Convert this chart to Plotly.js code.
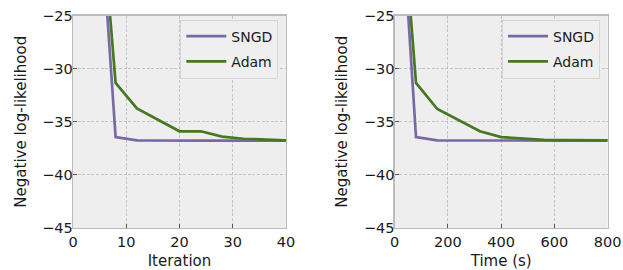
<!DOCTYPE html>
<html>
<head>
<meta charset="utf-8">
<script src="https://cdn.plot.ly/plotly-3.0.1.min.js"></script>
<style>
  html, body { margin: 0; padding: 0; background: #ffffff; }
  #chart { width: 623px; height: 270px; }
</style>
</head>
<body>
<div id="chart"></div>
<script>
// ---- Data ----
const seriesNames = ["SNGD", "Adam"];

// Left panel: negative log-likelihood vs. iteration
const iterSNGD = [4, 8, 12, 16, 20, 24, 28, 32, 36, 40];
const nllIterSNGD = [-7.0, -36.45, -36.75, -36.78, -36.78, -36.78, -36.78, -36.78, -36.78, -36.78];
const iterAdam = [4, 8, 12, 16, 20, 24, 28, 32, 36, 40];
const nllIterAdam = [-7.0, -31.35, -33.75, -34.85, -35.9, -35.9, -36.4, -36.6, -36.7, -36.75];

// Right panel: negative log-likelihood vs. wall-clock time (s)
const timeSNGD = [0, 80, 160, 320, 480, 640, 800];
const nllTimeSNGD = [-5.0, -36.45, -36.75, -36.78, -36.78, -36.78, -36.78];
const timeAdam = [0, 80, 160, 240, 320, 400, 480, 560, 640, 720, 800];
const nllTimeAdam = [-5.8, -31.35, -33.8, -34.85, -35.9, -36.45, -36.6, -36.7, -36.73, -36.75, -36.76];

// ---- Style ----
const colSNGD = "#7A68A6";
const colAdam = "#467821";
const FONT = "DejaVu Sans, sans-serif";
const W = 623, H = 270;
const lw = 2.7;

const traces = [
  {x: iterSNGD, y: nllIterSNGD, name: seriesNames[0], xaxis: "x", yaxis: "y", legend: "legend",
   legendgroup: "a", mode: "lines", line: {color: colSNGD, width: lw}},
  {x: iterAdam, y: nllIterAdam, name: seriesNames[1], xaxis: "x", yaxis: "y", legend: "legend",
   legendgroup: "b", mode: "lines", line: {color: colAdam, width: lw}},
  {x: timeSNGD, y: nllTimeSNGD, name: seriesNames[0], xaxis: "x2", yaxis: "y2", legend: "legend2",
   legendgroup: "c", mode: "lines", line: {color: colSNGD, width: lw}},
  {x: timeAdam, y: nllTimeAdam, name: seriesNames[1], xaxis: "x2", yaxis: "y2", legend: "legend2",
   legendgroup: "d", mode: "lines", line: {color: colAdam, width: lw}}
];

const yDom = [1 - 228 / H, 1 - 15.5 / H];
const gridDash = "3px,1.6px";

function xAxis(domain, range, dtick, title, anchor) {
  return {
    domain: domain, range: range, dtick: dtick, tick0: 0, anchor: anchor,
    showgrid: true, gridcolor: "#b2b2b2", gridwidth: 0.7, griddash: gridDash,
    zeroline: false, showline: true, mirror: true, linecolor: "#bcbcbc", linewidth: 1.3,
    ticks: "inside", ticklen: 4, tickwidth: 1, tickcolor: "#555555",
    tickfont: {family: FONT, size: 14.5, color: "#1a1a1a"},
    ticklabelstandoff: 0,
    title: {text: title, font: {family: FONT, size: 15, color: "#1a1a1a"}, standoff: 6},
    automargin: false
  };
}
function yAxis(domain, anchor) {
  return {
    domain: domain, range: [-45, -25], dtick: 5, tick0: -45, anchor: anchor,
    showgrid: true, gridcolor: "#b2b2b2", gridwidth: 0.7, griddash: gridDash,
    zeroline: false, showline: true, mirror: true, linecolor: "#bcbcbc", linewidth: 1.3,
    ticks: "inside", ticklen: 4, tickwidth: 1, tickcolor: "#555555",
    tickfont: {family: FONT, size: 14.5, color: "#1a1a1a"},
    ticklabelstandoff: -4,
    title: {text: "Negative log-likelihood", font: {family: FONT, size: 15, color: "#1a1a1a"}, standoff: 12},
    automargin: false
  };
}

const legendStyle = (xr) => ({
  x: xr, xanchor: "right", y: 1 - 19.5 / H, yanchor: "top",
  bgcolor: "#efefef", bordercolor: "#d6d6d6", borderwidth: 1,
  font: {family: FONT, size: 14, color: "#1a1a1a"},
  traceorder: "grouped", tracegroupgap: 4, itemwidth: 40
});

const layout = {
  width: W, height: H,
  margin: {l: 0, r: 0, t: 0, b: 0},
  paper_bgcolor: "#ffffff", plot_bgcolor: "#eeeeee",
  showlegend: true,
  xaxis: xAxis([73 / W, 286 / W], [0, 40], 10, "Iteration", "y"),
  yaxis: yAxis(yDom, "x"),
  xaxis2: xAxis([394.7 / W, 607.7 / W], [0, 800], 200, "Time (s)", "y2"),
  yaxis2: yAxis(yDom, "x2"),
  legend: legendStyle(278.3 / W),
  legend2: legendStyle(600 / W)
};

Plotly.newPlot("chart", traces, layout, {displayModeBar: false, staticPlot: true});
</script>
</body>
</html>
